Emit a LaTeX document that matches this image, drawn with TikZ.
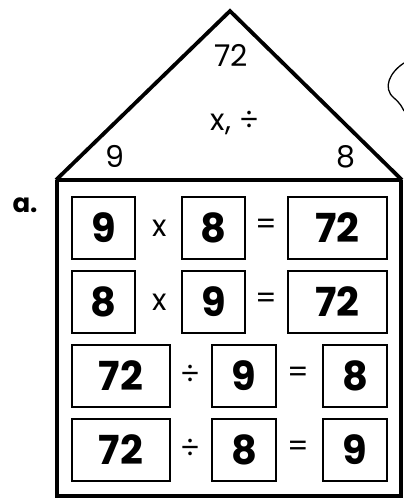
\documentclass[tikz,border=0pt]{standalone}
\usepackage{fontspec}
\setmainfont{Poppins}
\begin{document}
\begin{tikzpicture}[x=1pt,y=-1pt,
  numbox/.style={draw,line width=1.8pt,minimum height=62pt,inner sep=0pt,font=\fontsize{40}{40}\selectfont\bfseries},
  op/.style={font=\fontsize{30}{30}\selectfont},
  rooftxt/.style={font=\fontsize{30}{30}\selectfont}]
\useasboundingbox (0,0) rectangle (404,498);
% roof
\coordinate (apex) at (230,11);
\coordinate (bl) at (56,180);
\coordinate (br) at (402,180);
\draw[line width=3.8pt,line join=miter] (bl) -- (apex) -- (br);
% body
\coordinate (bb) at (57,496);
\coordinate (rb) at (401,496);
\draw[line width=3.4pt] (bl) -- (br);
\draw[line width=3.4pt] (57,180) -- (bb) -- (rb) -- (401,180);
% roof texts
\node[rooftxt] (top) at (231,55) {72};
\node[rooftxt] (mid) at (235,123) {x, ÷};
\node[rooftxt] (lf) at (115,156) {9};
\node[rooftxt] (rt) at (346,157) {8};
% partial bubble
\draw[line width=1.3pt] (404,63) .. controls (390,72) and (382,88) .. (394,98) .. controls (400,103) and (402,107) .. (404,111);
% label
\node[font=\fontsize{26}{26}\selectfont\bfseries] (lbl) at (25,205) {a.};
% row 1
\node[numbox,minimum width=63pt] (r1a) at (103.5,228) {9};
\node[op] (r1x) at (160,228) {x};
\node[numbox,minimum width=63pt] (r1b) at (213.5,228) {8};
\node[op] (r1e) at (266,227) {=};
\node[numbox,minimum width=99pt] (r1c) at (337.5,228) {72};
% row 2
\node[numbox,minimum width=63pt] (r2a) at (103.5,302) {8};
\node[op] (r2x) at (160,302) {x};
\node[numbox,minimum width=63pt] (r2b) at (213.5,302) {9};
\node[op] (r2e) at (266,301) {=};
\node[numbox,minimum width=99pt] (r2c) at (337.5,302) {72};
% row 3
\node[numbox,minimum width=98pt] (r3a) at (121,376) {72};
\node[op] (r3d) at (190,375) {÷};
\node[numbox,minimum width=64pt] (r3b) at (244,376) {9};
\node[op] (r3e) at (298,375) {=};
\node[numbox,minimum width=64pt] (r3c) at (355,376) {8};
% row 4
\node[numbox,minimum width=98pt] (r4a) at (121,450) {72};
\node[op] (r4d) at (190,449) {÷};
\node[numbox,minimum width=64pt] (r4b) at (244,450) {8};
\node[op] (r4e) at (298,449) {=};
\node[numbox,minimum width=64pt] (r4c) at (355,450) {9};
\end{tikzpicture}
\end{document}
